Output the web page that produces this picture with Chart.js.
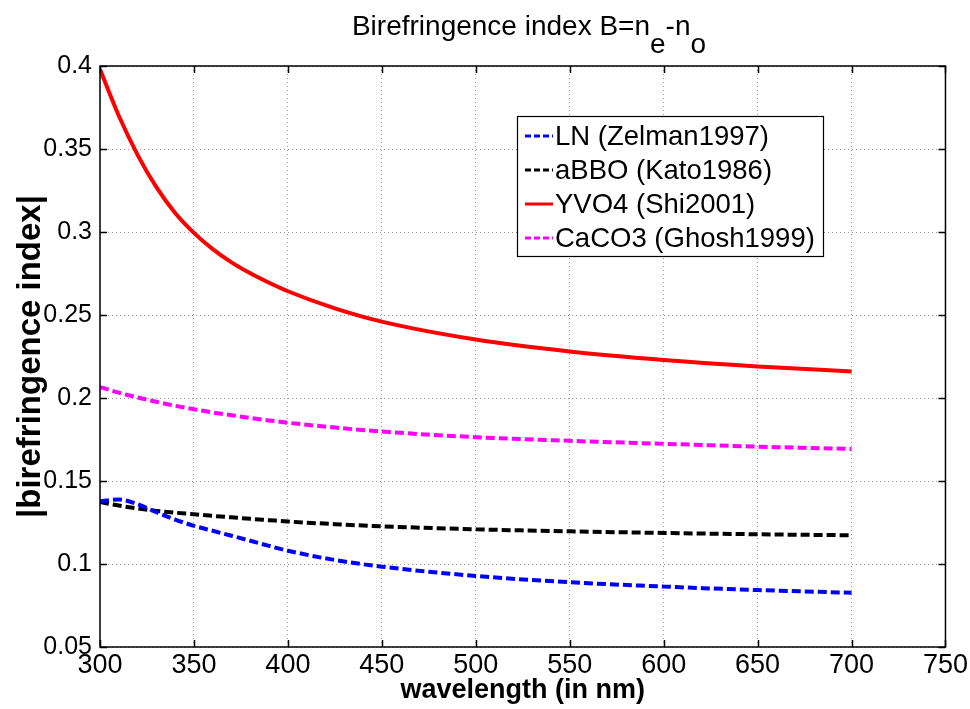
<!DOCTYPE html>
<html>
<head>
<meta charset="utf-8">
<script src="https://cdn.jsdelivr.net/npm/chart.js@4.4.0/dist/chart.umd.min.js"></script>
<style>
  html, body { margin: 0; padding: 0; background: #fff; }
  #c { display: block; }
</style>
</head>
<body>
<canvas id="c" width="970" height="709"></canvas>
<script>
// wavelength in nm
const wavelengths = [300, 310, 320, 330, 340, 350, 360, 370, 380, 390, 400, 425, 450, 500, 550, 600, 650, 700];

const lnZelman = [0.1378, 0.1388, 0.1360, 0.1312, 0.1268, 0.1230, 0.1200, 0.1170, 0.1140, 0.1109, 0.1080, 0.1024, 0.0984, 0.0928, 0.0890, 0.0864, 0.0843, 0.0827];
const abboKato = [0.1374, 0.1352, 0.1335, 0.1320, 0.1309, 0.1300, 0.1290, 0.1281, 0.1272, 0.1264, 0.1256, 0.1240, 0.1227, 0.1209, 0.1197, 0.1187, 0.1179, 0.1173];
const yvo4Shi = [0.398, 0.370, 0.3465, 0.327, 0.3115, 0.2995, 0.2897, 0.2817, 0.2751, 0.2694, 0.2643, 0.2540, 0.2460, 0.2352, 0.2280, 0.2229, 0.2190, 0.2160];
const caco3Ghosh = [0.2066, 0.2032, 0.2003, 0.1977, 0.1953, 0.1932, 0.1913, 0.1896, 0.1880, 0.1865, 0.1851, 0.1822, 0.1798, 0.1764, 0.1742, 0.1724, 0.1707, 0.1693];

const seriesNames = ["LN (Zelman1997)", "aBBO (Kato1986)", "YVO4 (Shi2001)", "CaCO3 (Ghosh1999)"];
const seriesColors = ["#0000ff", "#000000", "#ff0000", "#ff00ff"];
const seriesDashed = [true, true, false, true];

const xTicks = [300, 350, 400, 450, 500, 550, 600, 650, 700, 750];
const yTicks = [0.05, 0.1, 0.15, 0.2, 0.25, 0.3, 0.35, 0.4];

const FONT = "'Liberation Sans', Arial, sans-serif";

function toPoints(vals) {
  return wavelengths.map((w, i) => ({ x: w, y: vals[i] }));
}

const allValues = [lnZelman, abboKato, yvo4Shi, caco3Ghosh];

// MATLAB style box, inward ticks, title with subscripts, legend
const matlabDecor = {
  id: "matlabDecor",
  afterDraw(chart) {
    const ctx = chart.ctx;
    const a = chart.chartArea;
    const xs = chart.scales.x, ys = chart.scales.y;
    ctx.save();
    ctx.strokeStyle = "#000";
    ctx.lineWidth = 1.5;
    ctx.strokeRect(a.left, a.top, a.right - a.left, a.bottom - a.top);
    ctx.beginPath();
    const tl = 7;
    xTicks.forEach(v => {
      const px = Math.round(xs.getPixelForValue(v)) + 0.5;
      ctx.moveTo(px, a.bottom); ctx.lineTo(px, a.bottom - tl);
      ctx.moveTo(px, a.top); ctx.lineTo(px, a.top + tl);
    });
    yTicks.forEach(v => {
      const py = Math.round(ys.getPixelForValue(v)) + 0.5;
      ctx.moveTo(a.left, py); ctx.lineTo(a.left + tl, py);
      ctx.moveTo(a.right, py); ctx.lineTo(a.right - tl, py);
    });
    ctx.stroke();

    // title  B=n_e-n_o
    ctx.fillStyle = "#000";
    ctx.font = "28px " + FONT;
    ctx.textBaseline = "alphabetic";
    ctx.textAlign = "left";
    const parts = [["Birefringence index B=n", 0], ["e", 18], ["-n", 0], ["o", 18]];
    let total = 0;
    parts.forEach(p => total += ctx.measureText(p[0]).width);
    let tx = 529 - total / 2;
    const base = 35;
    parts.forEach(p => {
      ctx.fillText(p[0], tx, base + p[1]);
      tx += ctx.measureText(p[0]).width;
    });

    // legend
    const lx = 517, ly = 116, lw = 306, lh = 140;
    ctx.fillStyle = "#fff";
    ctx.fillRect(lx, ly, lw, lh);
    ctx.lineWidth = 1.2;
    ctx.strokeStyle = "#000";
    ctx.strokeRect(lx + 0.5, ly + 0.5, lw, lh);
    ctx.font = "27.5px " + FONT;
    ctx.textBaseline = "middle";
    seriesNames.forEach((name, i) => {
      const yy = ly + 20 + i * 34;
      ctx.beginPath();
      ctx.strokeStyle = seriesColors[i];
      ctx.lineWidth = 3;
      ctx.setLineDash(seriesDashed[i] ? [6, 3] : []);
      ctx.moveTo(lx + 8, yy);
      ctx.lineTo(lx + 36, yy);
      ctx.stroke();
      ctx.setLineDash([]);
      ctx.fillStyle = "#000";
      ctx.fillText(name, lx + 38, yy + 1);
    });
    ctx.restore();
  }
};

const ctx = document.getElementById("c").getContext("2d");
new Chart(ctx, {
  type: "line",
  data: {
    datasets: seriesNames.map((name, i) => ({
      label: name,
      data: toPoints(allValues[i]),
      borderColor: seriesColors[i],
      borderWidth: 4,
      borderDash: seriesDashed[i] ? [9, 4] : [],
      pointRadius: 0,
      fill: false,
      cubicInterpolationMode: "monotone"
    }))
  },
  options: {
    responsive: false,
    animation: false,
    devicePixelRatio: 1,
    layout: { padding: { top: 66, right: 24, left: 0, bottom: 0 } },
    plugins: {
      legend: { display: false },
      title: { display: false },
      tooltip: { enabled: false }
    },
    scales: {
      x: {
        type: "linear",
        min: 300,
        max: 750,
        afterFit: s => { s.height = 62; },
        afterBuildTicks: s => { s.ticks = xTicks.map(v => ({ value: v })); },
        grid: { color: "rgba(0,0,0,0.4)", drawTicks: false },
        border: { display: false, dash: [1, 3] },
        ticks: {
          color: "#000",
          font: { family: FONT, size: 27 },
          padding: 2,
          maxRotation: 0,
          autoSkip: false
        },
        title: {
          display: true,
          text: "wavelength (in nm)",
          color: "#000",
          font: { family: FONT, size: 27, weight: "bold" },
          padding: { top: 0, bottom: 2 }
        }
      },
      y: {
        min: 0.05,
        max: 0.4,
        afterFit: s => { s.width = 100; },
        afterBuildTicks: s => { s.ticks = yTicks.map(v => ({ value: v })); },
        grid: { color: "rgba(0,0,0,0.4)", drawTicks: false },
        border: { display: false, dash: [1, 3] },
        ticks: {
          color: "#000",
          font: { family: FONT, size: 25 },
          padding: 8,
          callback: v => String(Number(v.toFixed(2)))
        },
        title: {
          display: true,
          text: "|birefringence index|",
          color: "#000",
          font: { family: FONT, size: 33, weight: "bold" },
          padding: { top: 11, bottom: 0 }
        }
      }
    }
  },
  plugins: [matlabDecor]
});
</script>
</body>
</html>
